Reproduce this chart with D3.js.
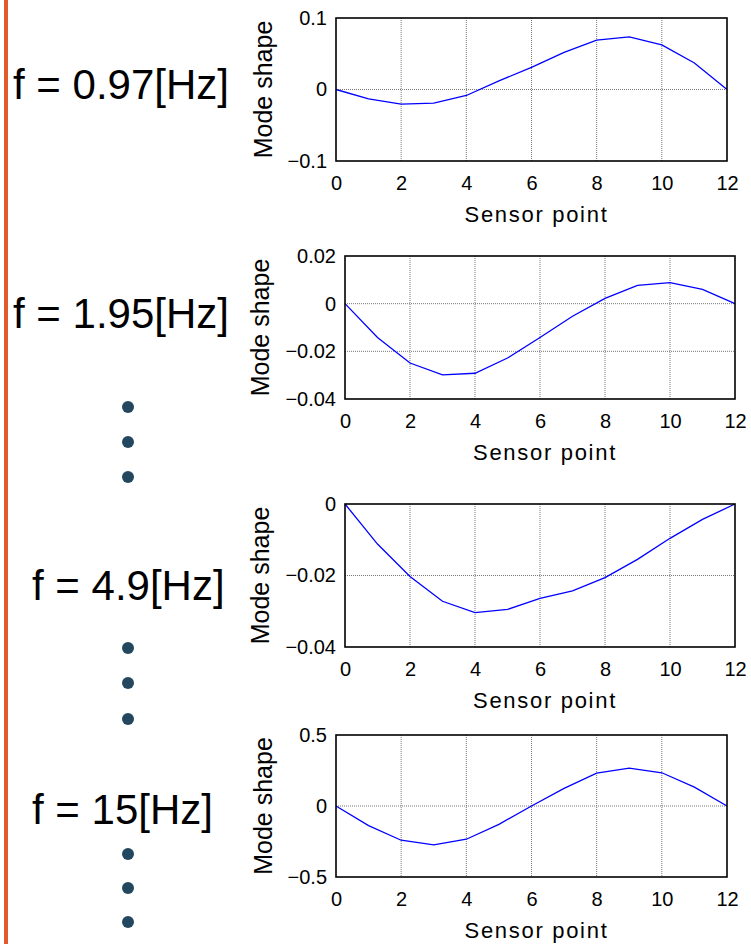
<!DOCTYPE html>
<html>
<head>
<meta charset="utf-8">
<script src="https://cdn.jsdelivr.net/npm/d3@7"></script>
<style>
  body { margin: 0; background: #fff; }
  svg { display: block; font-family: "Liberation Sans", Arial, sans-serif; }
</style>
</head>
<body>
<svg id="chart" width="751" height="944"></svg>
<script>
const WIDTH = 751;
const HEIGHT = 944;

// data
const sensorPoints = [0, 1, 2, 3, 4, 5, 6, 7, 8, 9, 10, 11, 12];
const frequencies = ['0.97', '1.95', '4.9', '15'];
const mode1 = [0, -0.013, -0.0205, -0.019, -0.0084, 0.012, 0.031, 0.052, 0.069, 0.0737, 0.0625, 0.037, 0];
const mode2 = [0, -0.0142, -0.0249, -0.0299, -0.0292, -0.0228, -0.0142, -0.0053, 0.0022, 0.0077, 0.0088, 0.006, 0];
const mode3 = [0, -0.0112, -0.0203, -0.0272, -0.0304, -0.0295, -0.0264, -0.0243, -0.0206, -0.0155, -0.0096, -0.0043, 0];
const mode4 = [0, -0.138, -0.241, -0.274, -0.234, -0.129, 0, 0.124, 0.232, 0.267, 0.234, 0.133, 0];
const yDomains = [[-0.1, 0.1], [-0.04, 0.02], [-0.04, 0], [-0.5, 0.5]];
const yTicks = [[-0.1, 0, 0.1], [-0.04, -0.02, 0, 0.02], [-0.04, -0.02, 0], [-0.5, 0, 0.5]];
const xTicks = [0, 2, 4, 6, 8, 10, 12];

const modes = [mode1, mode2, mode3, mode4];

// panel frames and side labels
const frames = [
  { x: 336, y: 18, w: 391, h: 143 },
  { x: 345, y: 256, w: 390, h: 143 },
  { x: 345, y: 504, w: 390, h: 143 },
  { x: 336, y: 735, w: 391, h: 142 },
];
const labelPos = [[13, 99], [13, 328], [32, 600], [32, 824]];
const dotRows = [[407, 442, 477], [648, 683, 719], [854, 888, 922]];

const svg = d3.select('#chart');
svg.append('rect').attr('width', WIDTH).attr('height', HEIGHT).attr('fill', '#fff');

// orange bar on the left
svg.append('rect')
  .attr('x', 4).attr('y', 0)
  .attr('width', 4).attr('height', HEIGHT)
  .attr('fill', '#e05a2b');

// frequency labels
svg.selectAll('text.freq').data(frequencies).enter()
  .append('text')
  .attr('class', 'freq')
  .attr('x', (d, i) => labelPos[i][0])
  .attr('y', (d, i) => labelPos[i][1])
  .style('font-size', '42px')
  .style('fill', '#000')
  .text((d) => `f = ${d}[Hz]`);

// ellipsis dots
svg.selectAll('circle.dot').data(dotRows.flat()).enter()
  .append('circle')
  .attr('class', 'dot')
  .attr('cx', 128)
  .attr('cy', (d) => d)
  .attr('r', 6)
  .attr('fill', '#22475f');

const fmt = (v) => (v === 0 ? '0' : d3.format('')(v).replace('-', '\u2212'));

modes.forEach((values, i) => {
  const f = frames[i];
  const g = svg.append('g').attr('transform', `translate(${f.x},${f.y})`);

  const x = d3.scaleLinear().domain([0, 12]).range([0, f.w]);
  const y = d3.scaleLinear().domain(yDomains[i]).range([f.h, 0]);

  // grid
  g.selectAll('line.gx').data(xTicks.slice(1, -1)).enter()
    .append('line')
    .attr('x1', (d) => x(d)).attr('x2', (d) => x(d))
    .attr('y1', 0).attr('y2', f.h)
    .attr('stroke', '#777').attr('stroke-width', 1)
    .attr('stroke-dasharray', '1,1');
  g.selectAll('line.gy').data(yTicks[i].filter((t) => t > yDomains[i][0] && t < yDomains[i][1])).enter()
    .append('line')
    .attr('x1', 0).attr('x2', f.w)
    .attr('y1', (d) => y(d)).attr('y2', (d) => y(d))
    .attr('stroke', '#777').attr('stroke-width', 1)
    .attr('stroke-dasharray', '1,1');

  // axes
  const xAxis = g.append('g')
    .attr('transform', `translate(0,${f.h})`)
    .call(d3.axisBottom(x).tickValues(xTicks).tickSize(0).tickPadding(15).tickFormat(d3.format('d')));
  const yAxis = g.append('g')
    .call(d3.axisLeft(y).tickValues(yTicks[i]).tickSize(0).tickPadding(9).tickFormat(fmt));
  [xAxis, yAxis].forEach((ax) => {
    ax.select('.domain').remove();
    ax.selectAll('text')
      .style('font-size', '20px')
      .style('font-family', '"Liberation Sans", Arial, sans-serif')
      .attr('fill', '#000');
  });

  // mode shape line
  const line = d3.line().x((d, k) => x(sensorPoints[k])).y((d) => y(d));
  g.append('path')
    .datum(values)
    .attr('d', line)
    .attr('fill', 'none')
    .attr('stroke', '#0000ff')
    .attr('stroke-width', 1.3);

  // frame
  g.append('rect')
    .attr('width', f.w).attr('height', f.h)
    .attr('fill', 'none')
    .attr('stroke', '#000')
    .attr('stroke-width', 1.6);

  // axis labels
  g.append('text')
    .attr('x', f.w / 2 + 5)
    .attr('y', f.h + 61)
    .attr('text-anchor', 'middle')
    .style('font-size', '22px')
    .style('letter-spacing', '1.7px')
    .text('Sensor point');

  let minLeft = 0;
  yAxis.selectAll('text').each(function () {
    minLeft = Math.min(minLeft, this.getBBox().x);
  });
  g.append('text')
    .attr('transform', `translate(${minLeft - 16},${f.h / 2}) rotate(-90)`)
    .attr('text-anchor', 'middle')
    .style('font-size', '25px')
    .text('Mode shape');
});
</script>
</body>
</html>
